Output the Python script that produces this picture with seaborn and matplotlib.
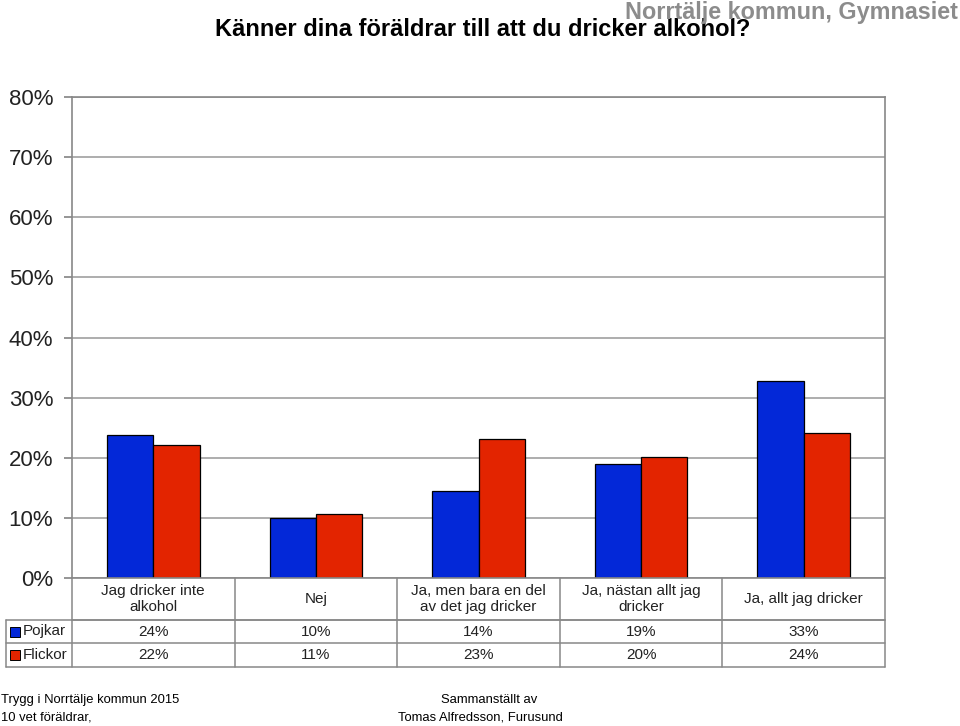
import matplotlib
matplotlib.use("Agg")
import matplotlib.pyplot as plt
import matplotlib.transforms as mtransforms
from matplotlib import font_manager
import seaborn as sns
import pandas as pd

categories = ["Jag dricker inte\nalkohol", "Nej", "Ja, men bara en del\nav det jag dricker",
              "Ja, nästan allt jag\ndricker", "Ja, allt jag dricker"]
pojkar = [23.8, 10.0, 14.5, 19.0, 32.8]
flickor = [22.2, 10.6, 23.2, 20.2, 24.1]
pojkar_lbl = ["24%", "10%", "14%", "19%", "33%"]
flickor_lbl = ["22%", "11%", "23%", "20%", "24%"]
series = ["Pojkar", "Flickor"]
colors = ["#0328D8", "#E32400"]
yticks = [0, 10, 20, 30, 40, 50, 60, 70, 80]

sns.set_theme(style="white")
plt.rcParams['font.family'] = ['Liberation Sans', 'DejaVu Sans']
names = {f.name for f in font_manager.fontManager.ttflist}
narrow = 'Liberation Sans Narrow' if 'Liberation Sans Narrow' in names else 'Liberation Sans'

df = pd.DataFrame({
    "cat": categories * 2,
    "val": pojkar + flickor,
    "kon": [series[0]] * 5 + [series[1]] * 5,
})

fig = plt.figure(figsize=(9.6, 7.26), dpi=100)
ax = fig.add_axes([72/960, 1-578/726, (885-72)/960, (578-97)/726])
sns.barplot(data=df, x="cat", y="val", hue="kon", hue_order=series, palette=colors,
            width=0.57, gap=0, edgecolor="black", linewidth=0.9, saturation=1,
            legend=False, ax=ax, errorbar=None)
ax.set_xlim(-0.5, 4.5)
ax.set_ylim(0, 80)
ax.set_yticks(yticks)
ax.set_yticklabels([f"{t}%" for t in yticks], fontsize=16, color="#222222")
ax.set_xticks([])
ax.set_xlabel("")
ax.set_ylabel("")
ax.yaxis.grid(True, color="#a0a0a0", linewidth=1.2)
ax.set_axisbelow(True)
for s in ax.spines.values():
    s.set_color("#888888")
    s.set_linewidth(1.2)
ax.tick_params(axis="y", length=6, color="#888888", pad=7.5, left=True)

# table below
tr = mtransforms.blended_transform_factory(ax.transData, ax.transAxes)
h = 481.0
y1 = -42 / h
y2 = -65 / h
y3 = -89 / h
xl = (6 - 72) / 162.6 - 0.5
lc = "#888888"
lw = 1.1
ax.plot([-0.5, 4.5], [y1, y1], transform=tr, color=lc, lw=lw, clip_on=False)
ax.plot([xl, 4.5], [y1, y1], transform=tr, color=lc, lw=lw, clip_on=False)
ax.plot([xl, 4.5], [y2, y2], transform=tr, color=lc, lw=lw, clip_on=False)
ax.plot([xl, 4.5], [y3, y3], transform=tr, color=lc, lw=lw, clip_on=False)
for xb in [-0.5, 0.5, 1.5, 2.5, 3.5, 4.5]:
    ax.plot([xb, xb], [0, y3], transform=tr, color=lc, lw=lw, clip_on=False)
ax.plot([xl, xl], [y1, y3], transform=tr, color=lc, lw=lw, clip_on=False)

for i, c in enumerate(categories):
    ax.text(i, y1 / 2, c, transform=tr, ha="center", va="center", fontsize=11,
            color="#222222", linespacing=1.1)
    ax.text(i, (y1 + y2) / 2, pojkar_lbl[i], transform=tr, ha="center", va="center",
            fontsize=11, color="#222222")
    ax.text(i, (y2 + y3) / 2, flickor_lbl[i], transform=tr, ha="center", va="center",
            fontsize=11, color="#222222")

sq = 10 / 162.6
for (ya, yb), name, col in [((y1, y2), series[0], colors[0]), ((y2, y3), series[1], colors[1])]:
    ym = (ya + yb) / 2
    xs = xl + 4 / 162.6
    ax.add_patch(plt.Rectangle((xs, ym - 5 / h), sq, 10 / h, transform=tr,
                               facecolor=col, edgecolor="black", lw=0.7, clip_on=False))
    ax.text(xs + sq + 3 / 162.6, ym, name, transform=tr, ha="left", va="center",
            fontsize=11, color="#222222")

fig.text(483 / 960, 1 - 29 / 726, "Känner dina föräldrar till att du dricker alkohol?",
         ha="center", va="center", fontsize=17, fontweight="bold", family=narrow, color="black")
fig.text(958 / 960, 1 - 12 / 726, "Norrtälje kommun, Gymnasiet",
         ha="right", va="center", fontsize=16.8, fontweight="bold", family=narrow, color="#8c8c8c")

fig.text(1 / 960, 1 - 700 / 726, "Trygg i Norrtälje kommun 2015", ha="left", va="center",
         fontsize=9.4, family=narrow, color="black")
fig.text(1 / 960, 1 - 718 / 726, "10 vet föräldrar,", ha="left", va="center",
         fontsize=9.4, family=narrow, color="black")
fig.text(489 / 960, 1 - 700 / 726, "Sammanställt av", ha="center", va="center",
         fontsize=9.4, family=narrow, color="black")
fig.text(480 / 960, 1 - 718 / 726, "Tomas Alfredsson, Furusund", ha="center", va="center",
         fontsize=9.4, family=narrow, color="black")

fig.savefig("out.png", dpi=100, facecolor="white")
